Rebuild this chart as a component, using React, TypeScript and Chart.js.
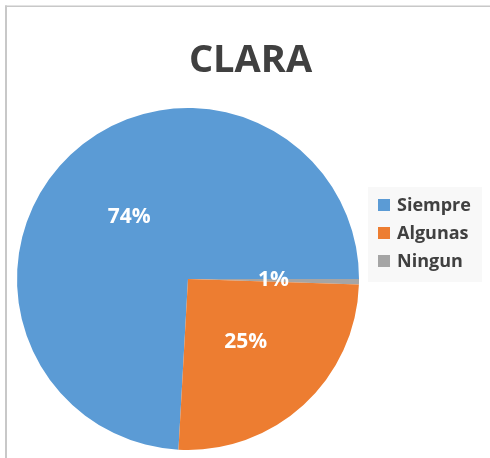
import React, { useEffect, useRef } from "react";
import { Chart, registerables } from "chart.js";

Chart.register(...registerables);

const title = "CLARA";
const categories = ["Siempre", "Algunas", "Ningun"];
const values = [146, 50, 1];
const colors = ["#5B9BD5", "#ED7D31", "#A5A5A5"];
// clockwise drawing order of the slices in the picture
const drawOrder = [0, 2, 1];

const FONT = "'Open Sans', 'Noto Sans', sans-serif";
const TEXT = "#404040";

const decorPlugin = {
  id: "decor",
  beforeDraw(chart: any) {
    const ctx = chart.ctx;
    ctx.save();
    // frame
    ctx.fillStyle = "#c8c8c8";
    ctx.fillRect(5, 5.5, chart.width - 5, 1.5);
    ctx.fillRect(5, 5.5, 2, chart.height);
    // legend background
    ctx.fillStyle = "#f8f8f8";
    ctx.fillRect(368, 187, 114, 95);
    ctx.restore();
  },
  afterDraw(chart: any) {
    const ctx = chart.ctx;
    ctx.save();
    // title
    ctx.fillStyle = TEXT;
    ctx.font = `bold 38px ${FONT}`;
    ctx.textAlign = "center";
    ctx.textBaseline = "alphabetic";
    ctx.fillText(title, 250.5, 72);

    // data labels
    const meta = chart.getDatasetMeta(0);
    const ds = chart.data.datasets[0];
    const total = ds.data.reduce((a: number, b: number) => a + b, 0);
    ctx.fillStyle = "#ffffff";
    ctx.font = `bold 21px ${FONT}`;
    ctx.textAlign = "center";
    ctx.textBaseline = "middle";
    meta.data.forEach((arc: any, i: number) => {
      const p = arc.getCenterPoint();
      const pct = Math.round((ds.data[i] / total) * 100);
      ctx.fillText(pct + "%", p.x, p.y);
    });

    // legend (in category order)
    ctx.font = `bold 18px ${FONT}`;
    ctx.textAlign = "left";
    categories.forEach((c, i) => {
      const y = 205 + i * 28;
      ctx.fillStyle = colors[i];
      ctx.fillRect(378, y - 6, 12, 12);
      ctx.fillStyle = TEXT;
      ctx.fillText(c, 397, y + 1);
    });
    ctx.restore();
  },
};

export default function App() {
  const ref = useRef<HTMLCanvasElement | null>(null);
  useEffect(() => {
    document.body.style.margin = "0";
    const total = values.reduce((a, b) => a + b, 0);
    const rotation = 90 - (values[0] / total) * 360;
    const chart = new Chart(ref.current as HTMLCanvasElement, {
      type: "pie",
      data: {
        labels: drawOrder.map((i) => categories[i]),
        datasets: [
          {
            data: drawOrder.map((i) => values[i]),
            backgroundColor: drawOrder.map((i) => colors[i]),
            borderWidth: 0,
          },
        ],
      },
      options: {
        animation: false,
        responsive: false,
        maintainAspectRatio: false,
        rotation,
        layout: { padding: { left: 17, right: 131, top: 108, bottom: 8 } },
        plugins: {
          legend: { display: false },
          title: { display: false },
          tooltip: { enabled: false },
        },
      },
      plugins: [decorPlugin],
    });
    return () => chart.destroy();
  }, []);
  return (
    <div style={{ position: "absolute", left: 0, top: 0, width: 490, height: 458, background: "#fff" }}>
      <canvas ref={ref} width={490} height={458} style={{ width: 490, height: 458, display: "block" }} />
    </div>
  );
}
